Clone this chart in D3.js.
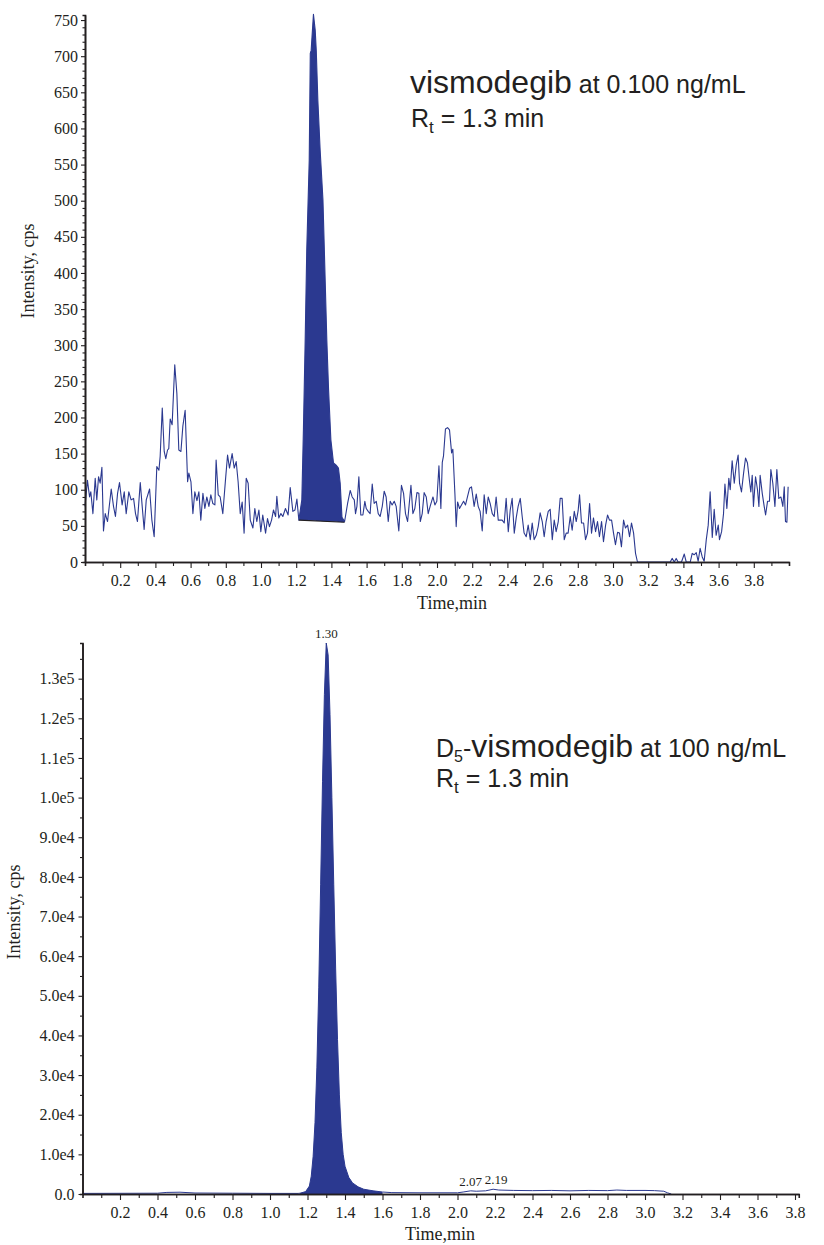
<!DOCTYPE html>
<html>
<head>
<meta charset="utf-8">
<script src="https://cdn.jsdelivr.net/npm/d3@7"></script>
<style>
  body { margin: 0; background: #fff; }
  svg { display: block; }
</style>
</head>
<body>
<svg id="chart" width="824" height="1245"></svg>
<script>
// ---- data: [time (min), intensity (cps)] ----

// upper trace, vismodegib 0.100 ng/mL
var topNoiseA = [[0.000,77],[0.014,113],[0.026,90],[0.033,97],[0.045,67],[0.058,116],[0.067,86],[0.077,118],[0.086,109],[0.096,131],[0.105,43],[0.115,67],[0.128,56],[0.149,101],[0.162,77],[0.173,63],[0.185,95],[0.196,110],[0.211,79],[0.223,97],[0.234,67],[0.249,97],[0.262,86],[0.276,88],[0.287,67],[0.298,56],[0.314,110],[0.325,77],[0.336,45],[0.348,86],[0.367,101],[0.380,58],[0.393,35],[0.408,132],[0.420,127],[0.427,146],[0.439,213],[0.450,153],[0.459,143],[0.469,155],[0.476,157],[0.484,198],[0.495,190],[0.510,273],[0.522,233],[0.533,155],[0.545,153],[0.556,188],[0.569,210],[0.583,111],[0.590,123],[0.602,111],[0.613,67],[0.624,97],[0.636,85],[0.647,97],[0.658,58],[0.670,95],[0.681,74],[0.692,90],[0.704,77],[0.715,93],[0.726,81],[0.738,79],[0.745,141],[0.757,93],[0.768,90],[0.783,67],[0.798,113],[0.810,148],[0.821,130],[0.836,150],[0.848,130],[0.859,139],[0.870,111],[0.882,67],[0.893,83],[0.904,40],[0.916,116],[0.927,109],[0.939,58],[0.954,47],[0.965,74],[0.976,56],[0.988,72],[0.999,42],[1.010,65],[1.026,40],[1.037,60],[1.048,49],[1.060,58],[1.071,72],[1.083,63],[1.090,91],[1.101,61],[1.113,67],[1.124,63],[1.139,74],[1.154,65],[1.166,103],[1.181,70],[1.193,72],[1.204,87]];
var topPeak = [[1.215,58],[1.232,86],[1.241,183],[1.251,307],[1.260,432],[1.274,556],[1.280,704],[1.285,708],[1.298,758],[1.308,736],[1.314,708],[1.323,639],[1.336,570],[1.352,501],[1.374,307],[1.384,238],[1.397,169],[1.412,137],[1.427,134],[1.440,130],[1.450,109],[1.460,62],[1.475,56]];
var topNoiseB = [[1.492,81],[1.507,99],[1.518,90],[1.530,86],[1.537,67],[1.545,77],[1.556,118],[1.567,65],[1.579,65],[1.590,84],[1.598,74],[1.609,70],[1.620,67],[1.632,108],[1.643,81],[1.655,84],[1.666,67],[1.677,63],[1.689,77],[1.700,98],[1.711,90],[1.723,56],[1.734,84],[1.745,79],[1.757,84],[1.768,77],[1.783,43],[1.798,106],[1.810,95],[1.821,67],[1.833,56],[1.852,106],[1.863,67],[1.874,74],[1.886,96],[1.897,95],[1.905,56],[1.916,67],[1.927,96],[1.939,90],[1.950,67],[1.961,77],[1.977,90],[1.988,79],[1.999,84],[2.011,133],[2.022,74],[2.030,138],[2.037,147],[2.048,184],[2.060,186],[2.071,183],[2.083,151],[2.090,156],[2.102,93],[2.109,49],[2.117,83],[2.128,74],[2.139,79],[2.151,84],[2.162,79],[2.173,90],[2.185,102],[2.196,104],[2.204,90],[2.211,77],[2.223,94],[2.234,77],[2.245,70],[2.257,43],[2.268,93],[2.280,67],[2.291,90],[2.302,81],[2.314,67],[2.325,63],[2.336,90],[2.348,58],[2.359,58],[2.370,58],[2.382,54],[2.393,88],[2.405,42],[2.416,72],[2.427,88],[2.439,40],[2.450,61],[2.461,77],[2.473,88],[2.484,63],[2.495,40],[2.507,35],[2.518,51],[2.530,31],[2.541,54],[2.552,31],[2.564,37],[2.575,49],[2.586,68],[2.598,56],[2.609,35],[2.620,56],[2.632,70],[2.643,73],[2.655,31],[2.666,58],[2.677,42],[2.689,56],[2.700,88]];
var topNoiseC = [[2.711,88],[2.723,31],[2.734,40],[2.745,40],[2.757,63],[2.768,44],[2.780,70],[2.791,56],[2.802,71],[2.810,93],[2.821,54],[2.833,54],[2.844,31],[2.855,40],[2.867,81],[2.878,40],[2.889,61],[2.901,42],[2.912,56],[2.923,35],[2.935,56],[2.946,28],[2.958,51],[2.969,65],[2.980,58],[2.992,58],[3.003,40],[3.014,24],[3.026,41],[3.037,40],[3.048,21],[3.060,58],[3.071,47],[3.083,51],[3.094,35],[3.105,54],[3.117,40],[3.128,12],[3.139,0],[3.325,0],[3.336,5],[3.348,0],[3.359,5],[3.370,0],[3.389,0],[3.405,11],[3.416,0],[3.439,0],[3.450,12],[3.461,10],[3.473,13],[3.484,1],[3.495,19],[3.507,7],[3.518,1],[3.530,31],[3.541,51],[3.552,97],[3.564,34],[3.575,73],[3.586,37],[3.598,51],[3.605,31],[3.617,42],[3.628,67],[3.636,108],[3.647,74],[3.658,116],[3.666,100],[3.677,140],[3.689,109],[3.700,134],[3.711,148],[3.719,109],[3.730,97],[3.742,123],[3.753,144],[3.764,137],[3.776,111],[3.783,97],[3.791,120],[3.798,77],[3.810,118],[3.821,100],[3.829,77],[3.836,120],[3.848,95],[3.859,77],[3.867,65],[3.878,84],[3.889,84],[3.897,128],[3.908,109],[3.920,77],[3.931,128],[3.942,88],[3.954,90],[3.965,77],[3.973,104],[3.980,56],[3.988,55],[3.995,104]];
// integration baseline under the upper peak
var topBaseline = [[1.215,58],[1.475,55]];

// lower trace, D5-vismodegib 100 ng/mL
var botLowA = [[0.00,150],[0.40,200],[0.45,400],[0.52,450],[0.60,250],[0.80,200],[1.00,150],[1.15,150]];
var botPeak = [[1.16,200],[1.19,600],[1.21,2000],[1.22,4500],[1.23,9500],[1.24,18000],[1.25,32000],[1.26,52000],[1.27,78000],[1.28,104000],[1.29,126000],[1.30,139000],[1.31,136000],[1.32,121000],[1.33,100000],[1.34,78000],[1.35,57000],[1.36,39000],[1.37,25000],[1.38,15500],[1.39,10000],[1.40,7000],[1.42,4200],[1.44,2800],[1.47,1800],[1.50,1200],[1.55,800],[1.60,500]];
var botLowB = [[1.65,350],[1.80,300],[2.00,300],[2.03,500],[2.07,800],[2.10,700],[2.15,800],[2.19,1200],[2.22,1000],[2.30,900],[2.40,850],[2.50,900],[2.60,800],[2.70,900],[2.80,850],[2.85,1000],[2.90,900],[3.00,900],[3.05,850],[3.10,700],[3.12,300],[3.14,0]];
var botPeakLabels = [[1.30,"1.30"],[2.07,"2.07"],[2.19,"2.19"]];

// tick labels
var timeTicks = [0.2,0.4,0.6,0.8,1.0,1.2,1.4,1.6,1.8,2.0,2.2,2.4,2.6,2.8,3.0,3.2,3.4,3.6,3.8];
var topYTicks = d3.range(0, 751, 50);
var botYTicks = d3.range(0, 130001, 10000);

var ink = "#231f20";
var blue = "#2b3990";
var svg = d3.select("#chart");

function minorTicks(major, step, max){
  return d3.range(step, max + 1e-9, step).filter(function(v){
    return major.indexOf(+v.toFixed(4)) < 0;
  });
}

function styleAxis(g){
  g.select(".domain").attr("stroke", ink).attr("stroke-width", 1.6);
  g.selectAll(".tick line").attr("stroke", ink).attr("stroke-width", 1.1);
  g.selectAll("text")
    .attr("fill", ink)
    .style("font-family", "'Liberation Serif', 'Times New Roman', serif")
    .style("font-size", "16px");
}

function drawAxes(x, y, yMajor, yMinor, yFmt, o){
  // minor ticks first, majors + domain on top
  svg.append("g").attr("transform", "translate(0," + o.y0 + ")")
    .call(d3.axisBottom(x).tickValues(minorTicks(timeTicks, 0.1, o.xMax)).tickSize(4).tickFormat(""))
    .call(styleAxis);
  svg.append("g").attr("transform", "translate(" + o.x0 + ",0)")
    .call(d3.axisLeft(y).tickValues(yMinor).tickSize(2.5).tickFormat(""))
    .call(styleAxis);
  svg.append("g").attr("transform", "translate(0," + o.y0 + ")")
    .call(d3.axisBottom(x).tickValues(timeTicks).tickSize(6).tickSizeOuter(0).tickPadding(o.xPad).tickFormat(d3.format(".1f")))
    .call(styleAxis);
  svg.append("g").attr("transform", "translate(" + o.x0 + ",0)")
    .call(d3.axisLeft(y).tickValues(yMajor).tickSize(4).tickSizeOuter(0).tickPadding(o.yPad).tickFormat(yFmt))
    .call(styleAxis);

  svg.append("text")
    .attr("x", o.xTitleX).attr("y", o.xTitleY)
    .attr("text-anchor", "middle")
    .attr("fill", ink)
    .style("font-family", "'Liberation Serif', serif").style("font-size", "18px")
    .text("Time,min");
  svg.append("text")
    .attr("transform", "translate(" + o.yTitleX + "," + o.yTitleY + ") rotate(-90)")
    .attr("text-anchor", "middle")
    .attr("fill", ink)
    .style("font-family", "'Liberation Serif', serif").style("font-size", "18px")
    .text("Intensity, cps");
}

function note(xp, yp, parts){
  var t = svg.append("text").attr("x", xp).attr("y", yp)
    .attr("fill", ink)
    .style("font-family", "'Liberation Sans', Arial, sans-serif");
  parts.forEach(function(p){
    t.append("tspan")
      .style("font-size", p[1] + "px")
      .attr("dy", p[2] || 0)
      .text(p[0]);
  });
}

// ---------------- upper chart ----------------
var xTop = d3.scaleLinear().domain([0, 4.0]).range([85, 789]);
var yTop = d3.scaleLinear().domain([0, 757]).range([562, 15]);

var topAll = topNoiseA.concat(topPeak, topNoiseB, topNoiseC);
var baseAt = d3.scaleLinear().domain(topBaseline.map(function(d){ return d[0]; }))
  .range(topBaseline.map(function(d){ return d[1]; }));

svg.append("path")
  .datum(topPeak)
  .attr("fill", blue)
  .attr("d", d3.area()
    .x(function(d){ return xTop(d[0]); })
    .y0(function(d){ return yTop(baseAt(d[0])); })
    .y1(function(d){ return yTop(d[1]); }));

svg.append("path")
  .datum(topAll)
  .attr("fill", "none")
  .attr("stroke", blue)
  .attr("stroke-width", 1.1)
  .attr("stroke-linejoin", "round")
  .attr("d", d3.line().x(function(d){ return xTop(d[0]); }).y(function(d){ return yTop(d[1]); }));

svg.append("path")
  .datum(topBaseline)
  .attr("stroke", ink)
  .attr("stroke-width", 1.2)
  .attr("d", d3.line().x(function(d){ return xTop(d[0]); }).y(function(d){ return yTop(d[1]); }));

drawAxes(xTop, yTop, topYTicks, minorTicks(topYTicks, 10, 757), d3.format("d"),
  {x0: 85, y0: 562, xMax: 3.95, xPad: 7, yPad: 3, xTitleX: 452, xTitleY: 609, yTitleX: 34, yTitleY: 271});

note(410, 93, [["vismodegib", 32], [" at 0.100 ng/mL", 25]]);
note(411, 127, [["R", 25], ["t", 17, 6], [" = 1.3 min", 25, -6]]);

// ---------------- lower chart ----------------
var xBot = d3.scaleLinear().domain([0, 3.82]).range([82.5, 798.75]);
var yBot = d3.scaleLinear().domain([0, 139000]).range([1194, 643]);

svg.append("path")
  .datum(botPeak)
  .attr("fill", blue)
  .attr("d", d3.area()
    .x(function(d){ return xBot(d[0]); })
    .y0(yBot(0))
    .y1(function(d){ return yBot(d[1]); }));

svg.append("path")
  .datum(botLowA.concat(botPeak, botLowB))
  .attr("fill", "none")
  .attr("stroke", blue)
  .attr("stroke-width", 1)
  .attr("d", d3.line().x(function(d){ return xBot(d[0]); }).y(function(d){ return yBot(d[1]); }));

drawAxes(xBot, yBot, botYTicks, minorTicks(botYTicks, 5000, 139000),
  function(v){ return v === 0 ? "0.0" : d3.format(".1e")(v).replace("+", ""); },
  {x0: 82.5, y0: 1194, xMax: 3.82, xPad: 7, yPad: 4, xTitleX: 440, xTitleY: 1240, yTitleX: 20, yTitleY: 912});

var allBot = botLowA.concat(botPeak, botLowB);
svg.selectAll(".peakLabel")
  .data(botPeakLabels)
  .enter().append("text")
  .attr("class", "peakLabel")
  .attr("x", function(d){ return xBot(d[0]) + (d[1] === "2.19" ? 3 : 0); })
  .attr("y", function(d){
    var p = allBot.reduce(function(a, b){ return Math.abs(b[0] - d[0]) < Math.abs(a[0] - d[0]) ? b : a; });
    return yBot(p[1]) - 5;
  })
  .attr("text-anchor", "middle")
  .attr("fill", ink)
  .style("font-family", "'Liberation Serif', serif")
  .style("font-size", "13px")
  .text(function(d){ return d[1]; });

note(436, 757, [["D", 25], ["5", 16, 5], ["-", 25, -5], ["vismodegib", 32], [" at 100 ng/mL", 25]]);
note(436, 787, [["R", 25], ["t", 17, 6], [" = 1.3 min", 25, -6]]);
</script>
</body>
</html>
